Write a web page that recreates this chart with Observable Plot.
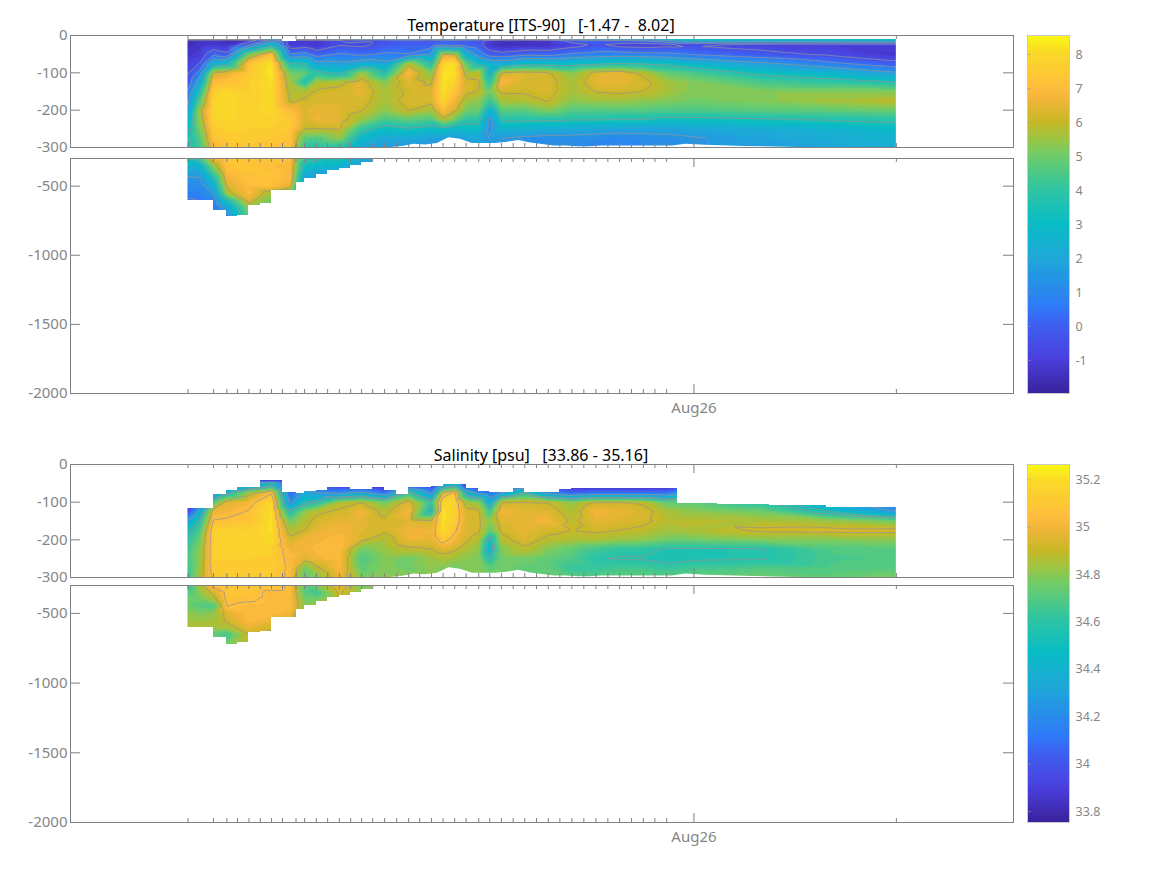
<!DOCTYPE html>
<html>
<head>
<meta charset="utf-8">
<script src="https://cdn.jsdelivr.net/npm/d3@7"></script>
<script src="https://cdn.jsdelivr.net/npm/@observablehq/plot@0.6"></script>
<style>
html,body{margin:0;padding:0;background:#fff}
#page{position:relative;width:1167px;height:875px;overflow:hidden;font-family:"Noto Sans",sans-serif}
#page svg{position:absolute;left:0;background:transparent}
.title{position:absolute;left:70px;width:942px;text-align:center;white-space:pre;color:#000;font-size:16px;line-height:20px}
</style>
</head>
<body>
<div id="page"></div>
<script>
// hours relative to Aug26 00:00
const stationHours = [-60,-56.98,-55.39,-54.13,-52.77,-51.43,-50.09,-48.79,-47.19,-46.17,-44.78,-43.44,-42.05,-40.71,-39.41,-38.1,-36.68,-35.25,-33.83,-32.52,-31.13,-29.75,-28.37,-27.02,-25.52,-24.22,-22.83,-21.44,-20.06,-18.67,-17.28,-15.9,-14.48,-13.06,-11.63,-10.21,-8.82,-7.4,-6,-4.63,-3.24,24];
const edgeHours = [-60,-56.98,-55.39,-54.13,-52.77,-51.43,-50.09,-48.79,-47.19,-46.17,-44.78,-43.44,-42.05,-40.71,-39.41,-38.1,-36.68,-35.25,-33.83,-32.52,-31.13,-29.75,-28.37,-27.02,-25.52,-24.22,-22.83,-21.44,-20.06,-18.67,-17.28,-15.9,-14.48,-13.06,-11.63,-10.21,-8.82,-7.4,-6,-4.63,-3.24,-1.9,0,2.8,8.98,15.75,24];
const bottomEdge = [604,676,720,712,640,628,531,531,471,445,418,387,370,350,327,305,300,297,291,293,289,274,278,289,289,289,286,281,288,292,296,296,298,298,296,296,296,296,296,296,296,291,294,297,300,300];
const tempTopEdge = [10,10,10,10,10,10,10,17,10,10,10,10,10,10,10,10,10,10,10,10,10,10,10,10,10,10,10,10,10,10,10,10,10,10,10,10,10,10,10,10,10,10,10,10,10,10];
const salTopEdge = [118,80,70,62,60,43,43,74,78,71,70,62,62,67,66,62,70,80,62,62,58,52,54,64,71,74,74,65,74,74,74,66,63,63,63,63,63,63,63,63,63,103,104,107,110,113];

const columnHours = [-60,-58.6,-56.98,-55.39,-52.77,-50.09,-47.87,-46.17,-44.78,-42.05,-39.41,-36.68,-33.83,-31.13,-29.75,-28.37,-27.02,-25.52,-24.22,-22.83,-20.06,-17.28,-14.48,-11.63,-8.82,-6,-3.24,0,7.95,16.2,24];

const tempDepths = [10,25,50,75,100,125,150,175,200,225,250,275,300];
const deepDepths = [350,400,450,500,550,600,650,720];
const tempColumns = [
[-1.4,-1.5,-1.3,-0.9,-0.6,-0.2,0.6,1.2,1.8,2.5,3.0,3.3,3.4],
[-1.4,-1.4,-1.1,-0.5,0.8,2.2,3.5,4.6,5.7,5.5,5.1,4.6,4.2],
[-1.4,-1.2,0.2,2.5,6.1,7,7.6,7.8,7.9,7.7,7.5,7.2,6.8],
[-1.6,-1.4,-0.3,3.0,6.4,7.2,7.9,8,8,7.9,7.7,7.5,7.3],
[-1.4,0.3,5.0,7.2,7.4,7.6,7.6,7.6,7.7,7.7,7.6,7.5,7.4],
[0.2,3.0,7,8.2,8.3,8.1,8,8,8,7.8,7.6,7.4,7.2],
[-1.3,-1.2,0.5,3.5,5.0,5.5,5.7,5.9,7,7.4,7.4,7.2,7],
[-1.2,-1.0,0.8,3.5,4.8,3.6,5.7,6.1,6.3,6.3,6,4.7,3.9],
[-1.1,-1.3,0,1.8,3.8,5.6,6.1,6.3,6.5,6.6,6,4.6,3.6],
[-0.5,-0.6,0.6,1.7,3.2,5.8,6.2,6.3,6.4,6.4,6.1,5.4,3.6],
[-0.3,-0.7,0.3,2.2,5.5,6.4,6.5,6.3,6.05,5.5,4,2.8,2],
[-0.3,-0.2,0.6,1.8,3.5,5.2,5.6,5.6,5.3,4.4,3,2,1.6],
[-0.1,0,0.5,5.8,6.9,6.4,6.1,6.3,6.05,4.8,3.4,2.1,1.5],
[-0.3,0,1.5,3.5,5.2,5.9,6.3,6.2,5.6,4.5,3,1.8,1.4],
[0,0.2,6,7.9,8.1,8.1,8.1,7.9,7,5.8,3.2,1.8,1.5],
[0.1,0.1,6,8.1,8.1,7.8,7.2,6.7,6.2,5,2.8,1.5,1.3],
[-0.2,0,2.2,4.8,5.7,6.2,6.2,5.6,5,4,3,1.9,1.6],
[-0.3,-0.2,1,3,5.9,6.1,6,5.3,4.9,3.9,3,2,1.7],
[-0.8,-1.3,0,2.4,2.8,3.8,5,4.2,2.5,1.2,1.2,1.5,1.6],
[-1.2,-1.6,-0.2,2.2,6.1,6.8,6.15,5.6,4.7,3.7,2.6,1.5,1.4],
[-1.2,-1.5,0.2,3,6.3,6.25,6.1,5.7,4.7,3.7,2.4,1.3,1.2],
[-1.1,-1.4,0.1,3,6.1,6.25,6.25,6.05,5.2,3.7,2.2,1.2,1.1],
[0.2,-0.9,0.6,3,5.2,5.6,5.6,5.3,4.6,3.6,2.1,1.2,1.1],
[0.5,-0.4,0.8,3.2,6.3,6.5,6.05,5.5,4.6,3.6,2,1.1,1],
[0.8,-0.9,0.9,3.5,6.5,6.5,6.15,5.5,4.6,3.5,1.9,1,1],
[1.2,-1,0.8,3.4,5.8,6.2,6,5.3,4.6,3.5,1.9,1.1,1.1],
[2,-0.8,0.7,3.2,4.8,5.6,5.6,5.2,4.5,3.2,1.9,1.2,1.2],
[3.5,-0.6,0.4,2.6,4.4,5.2,5.2,5,4.5,3.2,2,1.4,1.4],
[3.5,-0.9,-0.2,1.7,3.2,4.4,5.2,5.2,4.7,3.4,2.2,1.9,1.6],
[3.5,-1,-0.7,0.7,2.6,4,5.2,5.6,4.8,3.6,2.5,2.2,2],
[3.5,-1,-1.3,-0.2,1.6,3.5,5.2,5.9,5,3.8,2.9,2.5,2.3]
];
const tempDeepColumns = [
[2.5,1.8,1.3,1.0,0.8,0.4],
[2.6,1.9,1.4,1.1,0.9,0.5],
[5.5,4.5,3.2,2.2,1.5,1,0.6],
[7.2,7,6.6,6.2,5.7,3.5,2,1],
[7.2,7.2,7.1,7,6.9,6.5,5.5,4.8],
[7,7.2,7.2,7,5.5],
[6.9,6.9,6.8,6.4,5],
[3.2,2.6,1.8],
[3,2],
[2.6,1.5],
[1.5],
[1]
];

const salDepths = [45,60,75,100,125,150,175,200,225,250,275,300];
const salColumns = [
[33.8,33.8,33.8,33.8,33.95,34.3,34.5,34.6,34.65,34.68,34.65,34.6],
[33.9,33.9,34,34.15,34.35,34.55,34.68,34.75,34.8,34.8,34.82,34.85],
[33.95,34,34.1,34.7,34.98,35.06,35.13,35.13,35.13,35.13,35.11,35.09],
[34,34.1,34.5,34.95,35,35.07,35.15,35.13,35.13,35.13,35.12,35.1],
[34.1,34.35,34.85,35,35.06,35.08,35.13,35.13,35.13,35.13,35.12,35.1],
[34.4,34.6,35.03,35.18,35.2,35.2,35.2,35.18,35.14,35.12,35.12,35.1],
[33.9,33.95,34.05,34.2,34.55,34.75,34.85,34.93,35,35.02,35.03,35.03],
[34.1,34.2,34.35,34.5,34.8,34.86,34.9,35,35,34.95,34.75,34.7],
[33.95,34.05,34.25,34.55,34.88,34.93,34.97,35,35.02,35,34.88,34.78],
[33.85,33.95,34.2,34.85,34.92,34.97,35,35.03,35.03,35.03,35.02,34.98],
[33.85,33.95,34.3,34.9,35,34.97,34.95,34.92,34.75,34.68,34.72,34.77],
[33.8,33.85,34.1,34.75,34.87,34.92,34.92,34.85,34.82,34.78,34.78,34.8],
[33.9,34.1,34.6,34.95,35,34.95,35,34.98,34.88,34.75,34.75,34.8],
[33.8,33.95,34.2,34.6,34.5,34.92,34.98,34.97,34.9,34.82,34.8,34.8],
[34,34.45,34.93,35.18,35.2,35.2,35.2,35.1,34.95,34.85,34.78,34.8],
[34.3,34.6,35.08,35.15,35.15,35.12,35.07,35,34.92,34.82,34.75,34.78],
[33.8,34,34.45,34.85,34.93,34.95,34.95,34.92,34.85,34.8,34.78,34.8],
[33.8,33.9,34.2,34.8,34.92,34.93,34.92,34.85,34.8,34.78,34.78,34.8],
[33.8,33.9,34.1,34.35,34.65,34.8,34.73,34.45,34.4,34.55,34.72,34.77],
[33.8,33.95,34.25,34.9,35,34.95,34.92,34.87,34.78,34.75,34.75,34.78],
[33.9,34.2,34.55,34.92,34.95,34.97,34.97,34.95,34.88,34.75,34.72,34.73],
[33.8,33.95,34.2,34.9,34.95,35,34.93,34.87,34.78,34.72,34.72,34.75],
[33.8,33.85,34.05,34.8,34.85,34.88,34.9,34.85,34.72,34.68,34.62,34.7],
[33.8,33.85,34.1,34.92,35,34.97,34.92,34.85,34.65,34.58,34.62,34.7],
[33.8,33.85,34.1,34.92,34.97,34.94,34.9,34.82,34.6,34.56,34.65,34.72],
[33.8,33.85,34.1,34.88,34.94,34.92,34.88,34.8,34.6,34.56,34.65,34.72],
[33.8,33.85,34.1,34.72,34.85,34.87,34.83,34.75,34.55,34.52,34.62,34.72],
[33.9,34.1,34.4,34.72,34.8,34.87,34.85,34.75,34.55,34.55,34.65,34.73],
[33.9,34.1,34.3,34.58,34.75,34.85,34.92,34.78,34.56,34.56,34.68,34.75],
[33.8,33.9,34.1,34.3,34.5,34.82,34.93,34.78,34.68,34.67,34.68,34.72],
[33.8,33.85,33.95,34.05,34.25,34.75,34.93,34.8,34.7,34.68,34.7,34.77]
];
const salDeepColumns = [
[34.7,34.75,34.75,34.8,34.83,34.85],
[34.8,34.75,34.7,34.78,34.82,34.85],
[34.93,34.85,34.68,34.8,34.83,34.85,34.72],
[35.08,35.07,35.05,34.95,34.92,34.85,34.65,34.75],
[35.08,35.06,35.03,35.03,35.03,34.98,34.9,34.85],
[35.03,35.03,35.03,35.03,34.98],
[35.03,35.03,35.03,35,34.92],
[34.7,34.75,34.8],
[34.65,34.75],
[34.92,34.9],
[34.78],
[34.8]
];

const parulaStops = [0,0.092,0.187,0.234,0.282,0.377,0.472,0.567,0.662,0.71,0.757,0.82,0.852,0.947,1];
const parulaColors = ["#3b239f","#4a3fdc","#3f5ff0","#2f78f8","#2a88ec","#1ea8d8","#08bcc4","#30c5a2","#70cc68","#a0c440","#c8b825","#f2b53a","#ffbd3c","#f9d928","#fbfb12"];
const parulaLevels = 50;

const tempTitle = "Temperature [ITS-90]   [-1.47 -  8.02]";
const salTitle = "Salinity [psu]   [33.86 - 35.16]";
const tempDomain = [-1.97,8.56];
const salDomain = [33.754,35.265];
const tempBarTicks = [-1,0,1,2,3,4,5,6,7,8];
const salBarTicks = [33.8,34,34.2,34.4,34.6,34.8,35,35.2];
const salBarLabels = ["33.8","34","34.2","34.4","34.6","34.8","35","35.2"];
const tempLines = [-0.5,0.5,1.5,3.5,6];
const salLines = [34.25,34.5,34.57,34.9,35.05];
const upperTicks = [0,-100,-200,-300];
const lowerTicks = [-500,-1000,-1500,-2000];
const timeDomain = [-73.93,37.89];
const majorHour = [0];
const majorLabel = "Aug26";

const grey = "#808080";
const textGrey = "#868686";
const lineGrey = "#949494";
const page = document.getElementById("page");
const toColor = d3.scaleLinear(parulaStops, parulaColors).clamp(true);
const parula = t => toColor(Math.round(t * parulaLevels) / parulaLevels);

function points(depths, columns, deepColumns) {
  const out = [];
  const pad = [-64, ...columnHours, 28];
  pad.forEach((h, k) => {
    const i = Math.min(Math.max(k - 1, 0), columns.length - 1);
    depths.forEach((d, r) => out.push({x: h, y: -d, v: columns[i][r]}));
    (deepColumns[i] || []).forEach((v, r) => out.push({x: h, y: -deepDepths[r], v}));
  });
  return out;
}
function edgeRows(topEdge) {
  return topEdge.map((t, i) => ({x1: edgeHours[i], x2: edgeHours[i + 1], mid: (edgeHours[i] + edgeHours[i + 1]) / 2, top: -t, bottom: -bottomEdge[i]}));
}

function panel({data, edges, domainY, colorDomain, lines, top, height, mb, ticksY, labelsY, xlabel, upper}) {
  const W = 1167, ml = 70, mr = 154, mt = 5;
  const H = height, svgH = mt + H + mb;
  const inner = W - ml - mr;
  const bottomMask = upper
    ? Plot.area(edges, {x1: "mid", y1: "bottom", y2: -2000, fill: "white", clip: true})
    : Plot.rect(edges, {x1: "x1", x2: "x2", y1: "bottom", y2: -2000, fill: "white", clip: true, shapeRendering: "crispEdges"});
  const marks = [
    Plot.raster(data, {x: "x", y: "y", fill: "v", interpolate: "barycentric", pixelSize: 1}),
    Plot.contour(data, {x: "x", y: "y", value: "v", thresholds: lines, interpolate: "barycentric", stroke: lineGrey, strokeWidth: 0.75, fill: "none", clip: true}),
    bottomMask,
    Plot.rect(edges, {x1: "x1", x2: "x2", y1: 0, y2: "top", fill: "white", clip: true, shapeRendering: "crispEdges"}),
    Plot.rect([timeDomain[0]], {x1: timeDomain[0], x2: columnHours[0], y1: domainY[0], y2: domainY[1], fill: "white"}),
    Plot.rect([timeDomain[1]], {x1: columnHours[columnHours.length - 1], x2: timeDomain[1], y1: domainY[0], y2: domainY[1], fill: "white"}),
    Plot.tickX(stationHours, {x: d => d, insetBottom: H - 4, stroke: grey}),
    Plot.tickX(stationHours, {x: d => d, insetTop: H - 4, stroke: grey}),
    Plot.tickX(majorHour, {x: d => d, insetBottom: H - 9, stroke: grey}),
    Plot.tickX(majorHour, {x: d => d, insetTop: H - 9, stroke: grey}),
    Plot.tickY(ticksY, {y: d => d, insetRight: inner - 10, stroke: grey}),
    Plot.tickY(ticksY, {y: d => d, insetLeft: inner - 10, stroke: grey}),
    Plot.frame({stroke: grey}),
    Plot.axisY({ticks: labelsY, tickSize: 0, tickPadding: 3, tickFormat: d => String(d), label: null, fill: textGrey, fontSize: 15})
  ];
  if (xlabel) marks.push(Plot.axisX({ticks: majorHour, tickSize: 0, tickPadding: 9, tickFormat: () => majorLabel, label: null, fill: textGrey, fontSize: 15}));
  const svg = Plot.plot({
    width: W, height: svgH, marginLeft: ml, marginRight: mr, marginTop: mt, marginBottom: mb,
    x: {domain: timeDomain, axis: null},
    y: {domain: domainY, axis: null},
    color: {type: "linear", domain: colorDomain, interpolate: parula, clamp: true},
    style: {fontFamily: '"Noto Sans",sans-serif', fontSize: "15px", background: "transparent", overflow: "visible"},
    marks
  });
  svg.style.top = (top - mt) + "px";
  page.appendChild(svg);
}

function colorbar({domain, ticks, labels, top, height}) {
  const W = 1167, ml = 1027, mr = 1167 - 1069, mt = 1;
  const n = 180;
  const step = (domain[1] - domain[0]) / n;
  const levels = d3.range(n).map(i => domain[0] + i * step);
  const svg = Plot.plot({
    width: W, height: height + 2, marginLeft: ml, marginRight: mr, marginTop: mt, marginBottom: 1,
    x: {domain: [0, 1], axis: null},
    y: {domain, axis: null},
    color: {type: "linear", domain, interpolate: toColor, clamp: true},
    style: {fontFamily: '"Noto Sans",sans-serif', fontSize: "12.5px", background: "transparent", overflow: "visible"},
    marks: [
      Plot.rect(levels, {x1: 0, x2: 1, y1: d => d, y2: d => d + step, fill: d => d, shapeRendering: "crispEdges"}),
      Plot.frame({stroke: "#c9c9c9"}),
      Plot.tickY(ticks, {y: d => d, insetRight: 38, stroke: "#a0a0a0", strokeOpacity: 0.5}),
      Plot.axisY({anchor: "right", ticks, tickSize: 0, tickPadding: 6, tickFormat: (d, i) => labels ? labels[i] : String(d), label: null, fill: textGrey, fontSize: 12.5})
    ]
  });
  svg.style.top = (top - mt) + "px";
  page.appendChild(svg);
}

function title(text, y) {
  const d = document.createElement("div");
  d.className = "title";
  d.style.top = y + "px";
  d.textContent = text;
  page.appendChild(d);
}

const tempData = points(tempDepths, tempColumns, tempDeepColumns);
const salData = points(salDepths, salColumns, salDeepColumns);
const tempEdges = edgeRows(tempTopEdge);
const salEdges = edgeRows(salTopEdge);

panel({data: tempData, edges: tempEdges, domainY: [-300, 0], colorDomain: tempDomain, lines: tempLines, top: 35, height: 112, mb: 3, ticksY: [-100, -200], labelsY: upperTicks, upper: true});
panel({data: tempData, edges: tempEdges, domainY: [-2000, -300], colorDomain: tempDomain, lines: tempLines, top: 158, height: 235, mb: 30, ticksY: [-500, -1000, -1500], labelsY: lowerTicks, xlabel: true});
panel({data: salData, edges: salEdges, domainY: [-300, 0], colorDomain: salDomain, lines: salLines, top: 464, height: 113, mb: 3, ticksY: [-100, -200], labelsY: upperTicks, upper: true});
panel({data: salData, edges: salEdges, domainY: [-2000, -300], colorDomain: salDomain, lines: salLines, top: 585, height: 237, mb: 30, ticksY: [-500, -1000, -1500], labelsY: lowerTicks, xlabel: true});
colorbar({domain: tempDomain, ticks: tempBarTicks, top: 35, height: 358});
colorbar({domain: salDomain, ticks: salBarTicks, labels: salBarLabels, top: 464, height: 358});
title(tempTitle, 15);
title(salTitle, 445);
</script>
</body>
</html>
